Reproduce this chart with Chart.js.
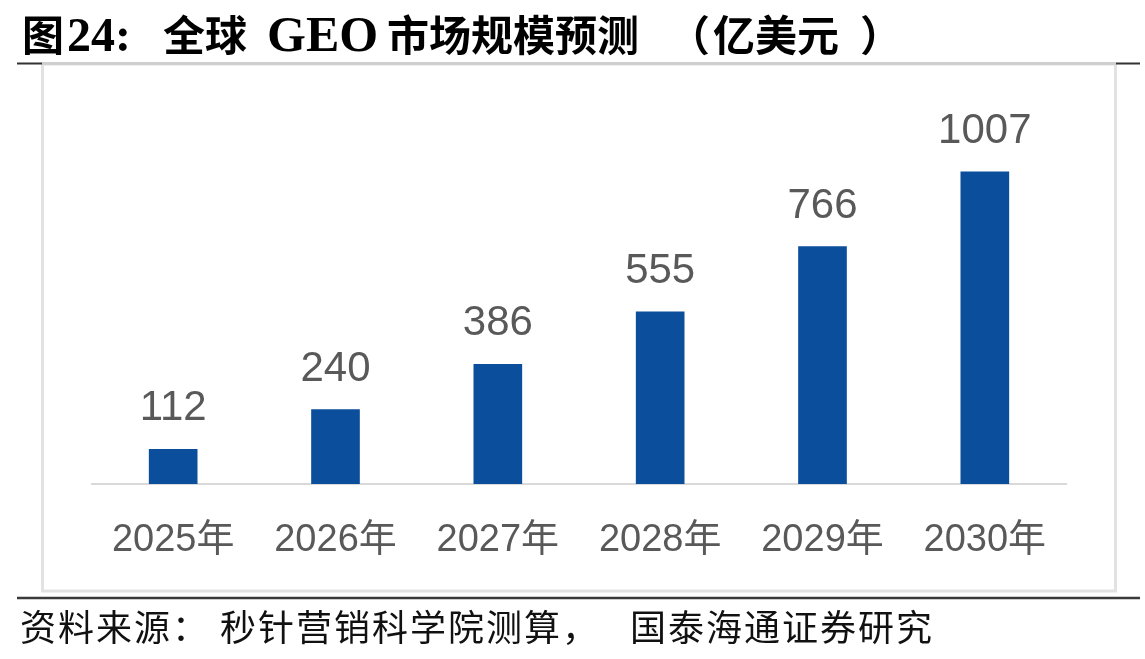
<!DOCTYPE html>
<html>
<head>
<meta charset="utf-8">
<script src="https://cdn.jsdelivr.net/npm/chart.js@4"></script>
<style>
  html, body { margin: 0; padding: 0; background: #fff; }
  #wrap { position: relative; width: 1145px; height: 659px; }
</style>
</head>
<body>
<div id="wrap"><canvas id="geoChart" width="1145" height="659"></canvas></div>
<script>
// data
const years = ['2025年', '2026年', '2027年', '2028年', '2029年', '2030年'];
const marketSize = [112, 240, 386, 555, 766, 1007];
const yMax = 1200;

const barColor = '#0b4f9c';
const textGray = '#595959';
const cjk = "'Noto Sans CJK SC'";

// frame, title and source line round the chart
const framePlugin = {
    id: 'frame',
    beforeDraw(chart) {
        const ctx = chart.ctx;
        ctx.save();
        ctx.fillStyle = '#fff';
        ctx.fillRect(0, 0, chart.width, chart.height);

        // light box
        ctx.strokeStyle = '#e2e2e2';
        ctx.lineWidth = 3;
        ctx.strokeRect(42.5, 64, 1073, 527);

        // top rule
        ctx.strokeStyle = '#cfcfcf';
        ctx.lineWidth = 3;
        ctx.beginPath();
        ctx.moveTo(42, 63.5);
        ctx.lineTo(1116, 63.5);
        ctx.stroke();
        ctx.strokeStyle = '#333';
        ctx.lineWidth = 2;
        ctx.beginPath();
        ctx.moveTo(17, 63.5); ctx.lineTo(42, 63.5);
        ctx.moveTo(1116, 63.5); ctx.lineTo(1140, 63.5);
        ctx.stroke();

        // bottom rule
        ctx.strokeStyle = '#3a3a3a';
        ctx.lineWidth = 2.5;
        ctx.beginPath();
        ctx.moveTo(17, 598);
        ctx.lineTo(1140, 598);
        ctx.stroke();
        ctx.restore();
    },
    afterDraw(chart) {
        const ctx = chart.ctx;
        ctx.save();
        ctx.fillStyle = '#000';
        ctx.textBaseline = 'alphabetic';
        ctx.textAlign = 'left';

        const cjkBold = 'bold 42px ' + cjk;
        const latBold = "bold 48px 'Liberation Serif'";
        const title = [
            ['图', 22, cjkBold],
            ['24:', 67, latBold],
            ['全球', 163, cjkBold],
            ['GEO', 267, "bold 50px 'Liberation Serif'"],
            ['市场规模预测', 387, cjkBold],
            ['（', 668, cjkBold],
            ['亿美元', 713, cjkBold],
            ['）', 860, cjkBold]
        ];
        title.forEach(([t, x, f]) => {
            ctx.font = f;
            ctx.fillText(t, x, 51);
        });

        // source
        ctx.font = '36px ' + cjk;
        ctx.letterSpacing = '2px';
        ctx.fillStyle = '#111';
        ctx.fillText('资料来源：', 20, 641);
        ctx.fillText('秒针营销科学院测算，', 220, 641);
        ctx.fillText('国泰海通证券研究', 630, 641);
        ctx.restore();
    }
};

// value labels above bars
const valueLabels = {
    id: 'valueLabels',
    afterDatasetsDraw(chart) {
        const ctx = chart.ctx;
        const meta = chart.getDatasetMeta(0);
        ctx.save();
        ctx.font = "42px 'Liberation Sans'";
        ctx.fillStyle = textGray;
        ctx.textAlign = 'center';
        ctx.textBaseline = 'alphabetic';
        meta.data.forEach((bar, i) => {
            ctx.fillText(String(marketSize[i]), bar.x, bar.y - 29);
        });
        ctx.restore();
    }
};

new Chart(document.getElementById('geoChart').getContext('2d'), {
    type: 'bar',
    data: {
        labels: years,
        datasets: [{
            data: marketSize,
            backgroundColor: barColor,
            borderWidth: 0,
            barThickness: 48
        }]
    },
    options: {
        responsive: false,
        animation: false,
        devicePixelRatio: 1,
        layout: {
            padding: { left: 92, right: 79, top: 112, bottom: 75 }
        },
        plugins: {
            legend: { display: false },
            tooltip: { enabled: false }
        },
        scales: {
            y: {
                display: false,
                min: 0,
                max: yMax
            },
            x: {
                afterFit(scale) { scale.height = 100; },
                grid: { display: false, drawTicks: false, tickLength: 0 },
                border: { display: true, color: '#d9d9d9', width: 2 },
                ticks: {
                    color: textGray,
                    padding: 34,
                    font: { size: 38, family: "'Liberation Sans', " + cjk }
                }
            }
        }
    },
    plugins: [framePlugin, valueLabels]
});
</script>
</body>
</html>
